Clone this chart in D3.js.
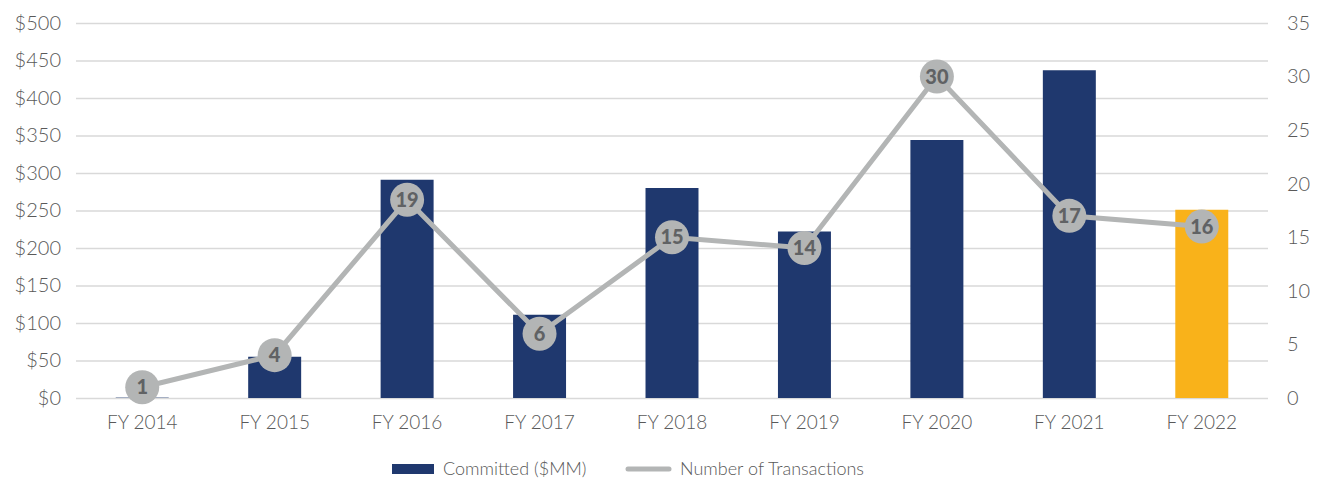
<!DOCTYPE html>
<html lang="en">
<head>
    <meta charset="UTF-8">
    <title>Committed vs Transactions</title>
    <script src="https://d3js.org/d3.v7.min.js" charset="utf-8"></script>
    <style>
        body { margin: 0; background: #fff; }
        text { font-family: Lato, "Open Sans", sans-serif; fill: #595959; }
        .axis path, .axis line { display: none; }
        .axis text { font-size: 19px; font-weight: 300; }
        .yaxis text { font-size: 20px; }
        .grid line { stroke: #d9d9d9; stroke-width: 1.5; }
        .grid path { display: none; }
    </style>
</head>
<body>
<script>
    // data
    let years = ['FY 2014', 'FY 2015', 'FY 2016', 'FY 2017', 'FY 2018', 'FY 2019', 'FY 2020', 'FY 2021', 'FY 2022'];
    let committed = [0.5, 55, 291, 111, 280, 222, 344, 437, 251];
    let transactions = [1, 4, 18.5, 6, 15, 14, 30, 17, 16];
    let leftTicks = [0, 50, 100, 150, 200, 250, 300, 350, 400, 450, 500];
    let rightTicks = [0, 5, 10, 15, 20, 25, 30, 35];

    let W = 1318, H = 479;
    let m = {top: 23, right: 50, bottom: 81, left: 76};

    let svg = d3.select('body').append('svg').attr('width', W).attr('height', H);
    let g = svg.append('g').attr('transform', 'translate(' + m.left + ',' + m.top + ')');
    let w = W - m.left - m.right, h = H - m.top - m.bottom;

    let x = d3.scaleBand().domain(years).range([0, w]).paddingInner(0.6).paddingOuter(0.3);
    let yL = d3.scaleLinear().domain([0, 500]).range([h, 0]);
    let yR = d3.scaleLinear().domain([0, 35]).range([h, 0]);

    // grid
    g.append('g').attr('class', 'grid')
        .call(d3.axisLeft(yL).tickValues(leftTicks).tickSize(-w).tickFormat(''));

    // left axis
    g.append('g').attr('class', 'axis yaxis')
        .call(d3.axisLeft(yL).tickValues(leftTicks).tickSize(0).tickPadding(15).tickFormat(function (d) { return '$' + d; }));

    // right axis
    g.append('g').attr('class', 'axis yaxis')
        .attr('transform', 'translate(' + w + ',0)')
        .call(d3.axisRight(yR).tickValues(rightTicks).tickSize(0).tickPadding(19));

    // bottom axis
    g.append('g').attr('class', 'axis')
        .attr('transform', 'translate(0,' + h + ')')
        .call(d3.axisBottom(x).tickSize(0).tickPadding(18));

    // bars
    g.selectAll('rect.bar')
        .data(committed).enter()
        .append('rect')
        .attr('class', 'bar')
        .attr('x', function (d, i) { return x(years[i]); })
        .attr('y', function (d) { return yL(d); })
        .attr('width', x.bandwidth())
        .attr('height', function (d) { return h - yL(d); })
        .attr('fill', function (d, i) { return i === years.length - 1 ? '#f9b21a' : '#1f386e'; });

    // line
    let cx = function (d, i) { return x(years[i]) + x.bandwidth() / 2; };
    let line = d3.line().x(cx).y(function (d) { return yR(d); });
    g.append('path')
        .datum(transactions)
        .attr('d', line)
        .attr('fill', 'none')
        .attr('stroke', '#b3b5b5')
        .attr('stroke-width', 5);

    let dots = g.selectAll('g.dot')
        .data(transactions).enter()
        .append('g')
        .attr('class', 'dot')
        .attr('transform', function (d, i) { return 'translate(' + cx(d, i) + ',' + yR(d) + ')'; });
    dots.append('circle').attr('r', 17).attr('fill', '#b3b5b5');
    dots.append('text')
        .attr('text-anchor', 'middle')
        .attr('dy', '0.36em')
        .style('font-size', '20px')
        .style('font-weight', '900')
        .style('fill', '#606264')
        .text(function (d) { return d3.format('.0f')(d); });

    // legend
    let lg = svg.append('g').attr('transform', 'translate(0,469)');
    lg.append('rect').attr('x', 392).attr('y', -5).attr('width', 42).attr('height', 10).attr('fill', '#1f386e');
    lg.append('text').attr('x', 443).attr('dy', '0.35em').style('font-size', '18px').style('font-weight', 300).text('Committed ($MM)');
    lg.append('line').attr('x1', 628).attr('x2', 669).attr('y1', 0).attr('y2', 0)
        .attr('stroke', '#b3b5b5').attr('stroke-width', 5).attr('stroke-linecap', 'round');
    lg.append('text').attr('x', 680).attr('dy', '0.35em').style('font-size', '18px').style('font-weight', 300).text('Number of Transactions');
</script>
</body>
</html>
